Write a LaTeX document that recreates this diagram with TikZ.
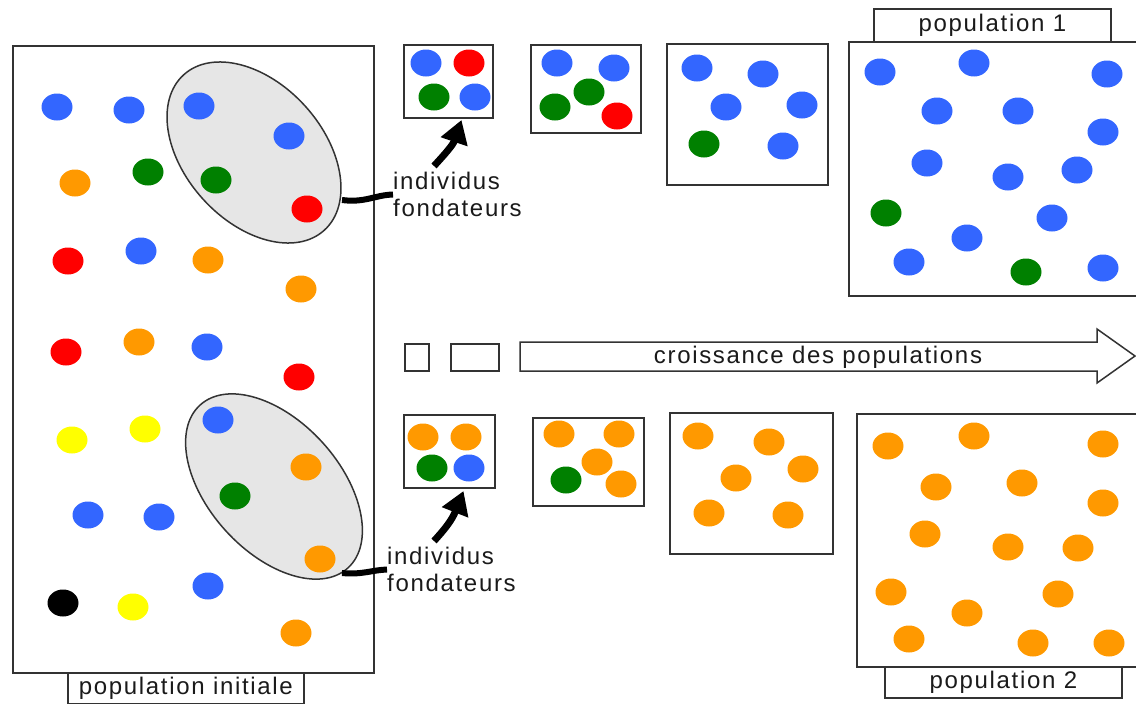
\documentclass[tikz,border=0pt]{standalone}
\usepackage{fontspec}
\setmainfont{Liberation Sans}[LetterSpace=7]
\usetikzlibrary{shapes.geometric,arrows.meta}
\definecolor{cblue}{HTML}{3366FF}
\definecolor{cred}{HTML}{FF0000}
\definecolor{cgreen}{HTML}{008000}
\definecolor{corange}{HTML}{FF9900}
\definecolor{cyellow}{HTML}{FFFF00}
\definecolor{cblack}{HTML}{000000}
\definecolor{linegray}{HTML}{333333}
\definecolor{ellfill}{HTML}{E6E6E6}
\definecolor{txt}{HTML}{1A1A1A}
\newcommand{\pdots}[2]{\foreach \p in {#2} \fill[#1] \p ellipse [x radius=15.5, y radius=13.5];}
\begin{document}
\begin{tikzpicture}[x=1pt,y=-1pt,
  box/.style={draw=linegray, line width=2pt, inner sep=0pt, anchor=north west},
  labelbox/.style={draw=linegray, line width=1.8pt, fill=white, inner sep=0pt, anchor=north west, text=txt, font=\fontsize{24}{27}\selectfont},
  grp/.style={draw=linegray, fill=ellfill, line width=1.5pt, ellipse, inner sep=0pt},
  lbl/.style={anchor=north west, align=left, inner sep=0pt, text=txt, font=\fontsize{24}{27}\selectfont},
  link/.style={line width=6pt, draw=black},
  pointer/.style={line width=7pt, draw=black, -{Triangle[width=27pt,length=23pt]}},
  hollow/.style={draw=linegray, line width=1.5pt, fill=white}
]
\useasboundingbox (0,0) rectangle (1136,704);
\clip (0,0) rectangle (1136,704);

% main boxes
\node[box, minimum width=361pt, minimum height=627pt] (initbox) at (12,45) {};
\node[box, minimum width=89pt, minimum height=73pt] (tb1) at (403,44) {};
\node[box, minimum width=110pt, minimum height=88pt] (tb2) at (530,44) {};
\node[box, minimum width=161pt, minimum height=141pt] (tb3) at (666,43) {};
\node[box, minimum width=300pt, minimum height=254pt] (pop1) at (848,41) {};
\node[box, minimum width=91pt, minimum height=73pt] (bb1) at (403,414) {};
\node[box, minimum width=111pt, minimum height=88pt] (bb2) at (532,417) {};
\node[box, minimum width=163pt, minimum height=141pt] (bb3) at (669,412) {};
\node[box, minimum width=300pt, minimum height=253pt] (pop2) at (856,413) {};
\node[box, minimum width=24pt, minimum height=27pt] (sq) at (404,343) {};
\node[box, minimum width=48pt, minimum height=27pt] (rc) at (450,343) {};

% labels
\node[labelbox, minimum width=237pt, minimum height=33pt] (lab1) at (873,8) {population 1};
\node[labelbox, minimum width=237pt, minimum height=31pt] (lab2) at (884,666) {population 2};
\node[labelbox, minimum width=236pt, minimum height=31pt] (lab0) at (67,672) {population initiale};

% founder groups
\node[grp, minimum width=209.6pt, minimum height=138.2pt, rotate=-47.9] (e1) at (254,152.5) {};
\node[grp, minimum width=220pt, minimum height=131pt, rotate=-47.8] (e2) at (274,486.5) {};

% initial population
\pdots{cblue}{(57,107),(129,110),(199,106),(289,136),(141,251),(207,347),(218,420),(88,515),(159,517),(208,586)}
\pdots{corange}{(75,183),(208,260),(301,289),(139,342),(306,467),(320,559),(296,633)}
\pdots{cgreen}{(148,172),(216,180),(235,496)}
\pdots{cred}{(307,209),(68,261),(66,352),(299,377)}
\pdots{cyellow}{(72,440),(145,429),(133,607)}
\pdots{cblack}{(63,603)}
% top series
\pdots{cblue}{(426,63),(475,97),(557,63),(614,68),(697,68),(763,74),(726,107),(802,105),(783,146)}
\pdots{cred}{(469,63),(617,116)}
\pdots{cgreen}{(434,97),(589,92),(555,107),(704,144)}
\pdots{cblue}{(880,72),(974,63),(1107,74),(937,111),(1018,111),(1103,132),(927,163),(1008,177),(1077,170),(1052,218),(967,238),(909,262),(1103,268)}
\pdots{cgreen}{(886,213),(1026,272)}
% bottom series
\pdots{corange}{(423,437),(466,437),(559,434),(619,434),(597,462),(621,484),(698,436),(769,442),(736,478),(803,469),(709,513),(788,515)}
\pdots{cgreen}{(432,468),(566,480)}
\pdots{cblue}{(469,468)}
\pdots{corange}{(888,446),(974,436),(1103,444),(936,487),(1022,483),(1103,503),(925,534),(1008,547),(1078,548),(891,592),(1058,594),(967,613),(909,639),(1033,643),(1109,643)}

% founder labels and pointers
\node[lbl] (t1) at (393,172) {individus\\fondateurs};
\node[lbl] (t2) at (387,547) {individus\\fondateurs};
\coordinate (c1) at (342,200);
\coordinate (c2) at (342,573);
\coordinate (a1) at (434,166);
\coordinate (a2) at (434,541);
\draw[link] (c1) .. controls (365,203) and (375,195) .. (t1.west);
\draw[link] (c2) .. controls (362,575) and (372,570) .. (t2.west);
\draw[pointer] (a1) .. controls (445,154) and (453,145) .. ([xshift=13pt,yshift=-1pt]tb1.south);
\draw[pointer] (a2) .. controls (445,529) and (452,520) .. ([xshift=14pt,yshift=-2pt]bb1.south);

% growth arrow
\draw[hollow] (520,342) -- (1097,342) -- (1097,329) -- (1135,356) -- (1097,383) -- (1097,371) -- (520,371) -- cycle;
\node[text=txt, font=\fontsize{24}{27}\selectfont, inner sep=0pt] (grow) at (818,357) {croissance des populations};
\end{tikzpicture}
\end{document}
